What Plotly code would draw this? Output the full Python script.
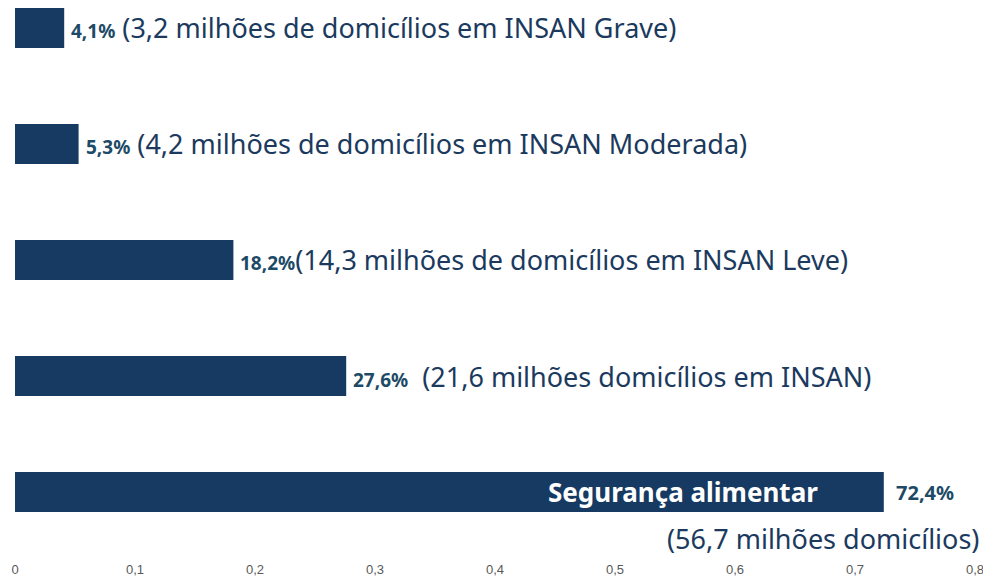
import plotly.graph_objects as go

# Data (bottom to top)
categories = ["Segurança alimentar", "INSAN", "INSAN Leve", "INSAN Moderada", "INSAN Grave"]
values = [0.724, 0.276, 0.182, 0.053, 0.041]
pct_labels = ["72,4%", "27,6%", "18,2%", "5,3%", "4,1%"]
descriptions = ["(56,7 milhões domicílios)",
                "(21,6 milhões domicílios em INSAN)",
                "(14,3 milhões de domicílios em INSAN Leve)",
                "(4,2 milhões de domicílios em INSAN Moderada)",
                "(3,2 milhões de domicílios em INSAN Grave)"]
separators = ["", "&nbsp;&nbsp;", "", " ", " "]
tick_vals = [0, 0.1, 0.2, 0.3, 0.4, 0.5, 0.6, 0.7, 0.8]
tick_text = ["0", "0,1", "0,2", "0,3", "0,4", "0,5", "0,6", "0,7", "0,8"]

BAR = "#173a62"
PCT = "#1d4a66"
TXT = "#1b3a5e"
FONT = "Noto Sans"

fig = go.Figure(go.Bar(
    y=categories, x=values, orientation="h",
    marker=dict(color=BAR, line=dict(width=0)),
    width=0.345, hoverinfo="skip",
))

ann = []
for i, (cat, v) in enumerate(zip(categories, values)):
    if i == 0:
        ann.append(dict(x=v, y=cat, xref="x", yref="y", xanchor="right", yanchor="middle",
                        xshift=-64, showarrow=False,
                        text="<b>Segurança alimentar</b>",
                        font=dict(family=FONT, size=26, color="white")))
        ann.append(dict(x=v, y=cat, xref="x", yref="y", xanchor="left", yanchor="middle",
                        xshift=10, showarrow=False,
                        text="<b>" + pct_labels[i] + "</b>",
                        font=dict(family=FONT, size=20, color=PCT)))
        ann.append(dict(x=0.8, y=cat, xref="x", yref="y", xanchor="right", yanchor="middle",
                        xshift=6, yshift=-46, showarrow=False,
                        text=descriptions[i],
                        font=dict(family=FONT, size=27, color=TXT)))
    else:
        txt = ("<b>" + pct_labels[i] + "</b>"
               + "<span style='font-size:27px;color:" + TXT + "'>" + separators[i]
               + descriptions[i] + "</span>")
        ann.append(dict(x=v, y=cat, xref="x", yref="y", xanchor="left", yanchor="middle",
                        xshift=5, showarrow=False, text=txt,
                        font=dict(family=FONT, size=19, color=PCT)))

fig.update_layout(
    width=983, height=569,
    margin=dict(l=7, r=16, t=0, b=17),
    paper_bgcolor="white", plot_bgcolor="white",
    showlegend=False,
    annotations=ann,
    xaxis=dict(range=[0, 0.8], tickvals=tick_vals, ticktext=tick_text, automargin=False,
               showgrid=False, zeroline=False, showline=False, ticks="",
               tickfont=dict(family="Liberation Sans", size=13, color="#595959")),
    yaxis=dict(categoryorder="array", categoryarray=categories, automargin=False,
               range=[-0.586, 4.172], showticklabels=False, showgrid=False,
               zeroline=False, showline=False),
)

fig.write_html("out.html")
